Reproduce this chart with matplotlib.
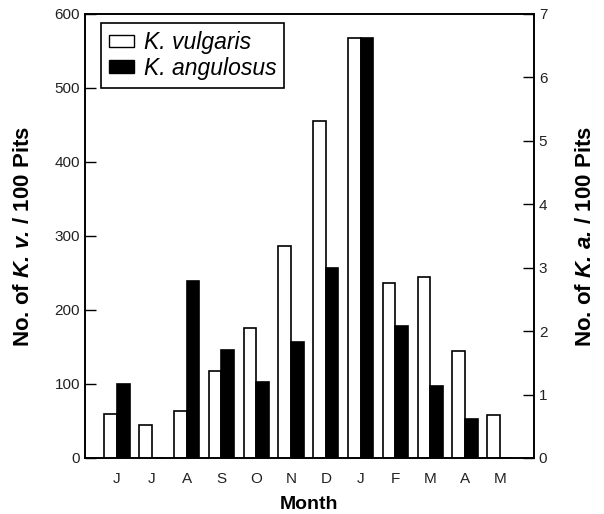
import numpy as np
import matplotlib.pyplot as plt
from matplotlib.patches import Patch

months = ["J", "J", "A", "S", "O", "N", "D", "J", "F", "M", "A", "M"]
k_vulgaris = [60, 44, 64, 117, 175, 286, 455, 568, 237, 245, 144, 58]
k_angulosus = [1.16, 0.0, 2.79, 1.71, 1.20, 1.83, 3.00, 6.62, 2.08, 1.14, 0.61, 0.0]

plt.rcParams["font.family"] = "Liberation Sans"
plt.rcParams["mathtext.fontset"] = "custom"
plt.rcParams["mathtext.rm"] = "Liberation Sans"
plt.rcParams["mathtext.bf"] = "Liberation Sans:bold"
plt.rcParams["mathtext.it"] = "Liberation Sans:italic"
plt.rcParams["mathtext.bfit"] = "Liberation Sans:bold:italic"

fig = plt.figure(figsize=(6.04, 5.14), dpi=100)
ax = fig.add_axes([0.1407, 0.109, 0.7433, 0.8638])
ax2 = ax.twinx()

x = np.arange(len(months))
w = 0.36
ax.bar(x - w / 2, k_vulgaris, w, color="white", edgecolor="black", linewidth=1.2, zorder=3)
ax2.bar(x + w / 2, k_angulosus, w, color="black", edgecolor="black", linewidth=1.2, zorder=3)

ax.set_xlim(-0.92, 11.98)
ax.set_ylim(0, 600)
ax2.set_ylim(0, 7)
ax.set_yticks(range(0, 601, 100))
ax2.set_yticks(range(0, 8))
ax.set_xticks(x)
ax.set_xticklabels(months)

ax.tick_params(axis="x", length=0, pad=10, labelsize=11, colors="#222222")
ax.tick_params(axis="y", direction="in", length=8, width=1, labelsize=11, labelcolor="#222222")
ax2.tick_params(axis="y", direction="in", length=8, width=1, labelsize=11, labelcolor="#222222")

for a in (ax, ax2):
    for s in a.spines.values():
        s.set_linewidth(1.2)

ax.set_xlabel("Month", fontsize=14, fontweight="bold", labelpad=7)
ax.set_ylabel(r"No. of $\mathbfit{K.\,v.}\!$ / 100 Pits", fontsize=16,
              fontweight="bold", labelpad=15)
ax2.set_ylabel(r"No. of $\mathbfit{K.\,a.}\!$ / 100 Pits", fontsize=16,
               fontweight="bold", labelpad=20)

handles = [Patch(facecolor="white", edgecolor="black", linewidth=1),
           Patch(facecolor="black", edgecolor="black")]
leg = ax.legend(handles, ["K. vulgaris", "K. angulosus"], loc="upper left",
                bbox_to_anchor=(0.036, 0.98), prop={"style": "italic", "size": 16.5},
                frameon=True, fancybox=False, edgecolor="black", framealpha=1,
                handlelength=1.1, handleheight=0.45, handletextpad=0.4,
                borderpad=0.35, labelspacing=0.12, borderaxespad=0)
leg.get_frame().set_linewidth(1.2)
leg.set_zorder(5)

fig.savefig("out.png", dpi=100)
